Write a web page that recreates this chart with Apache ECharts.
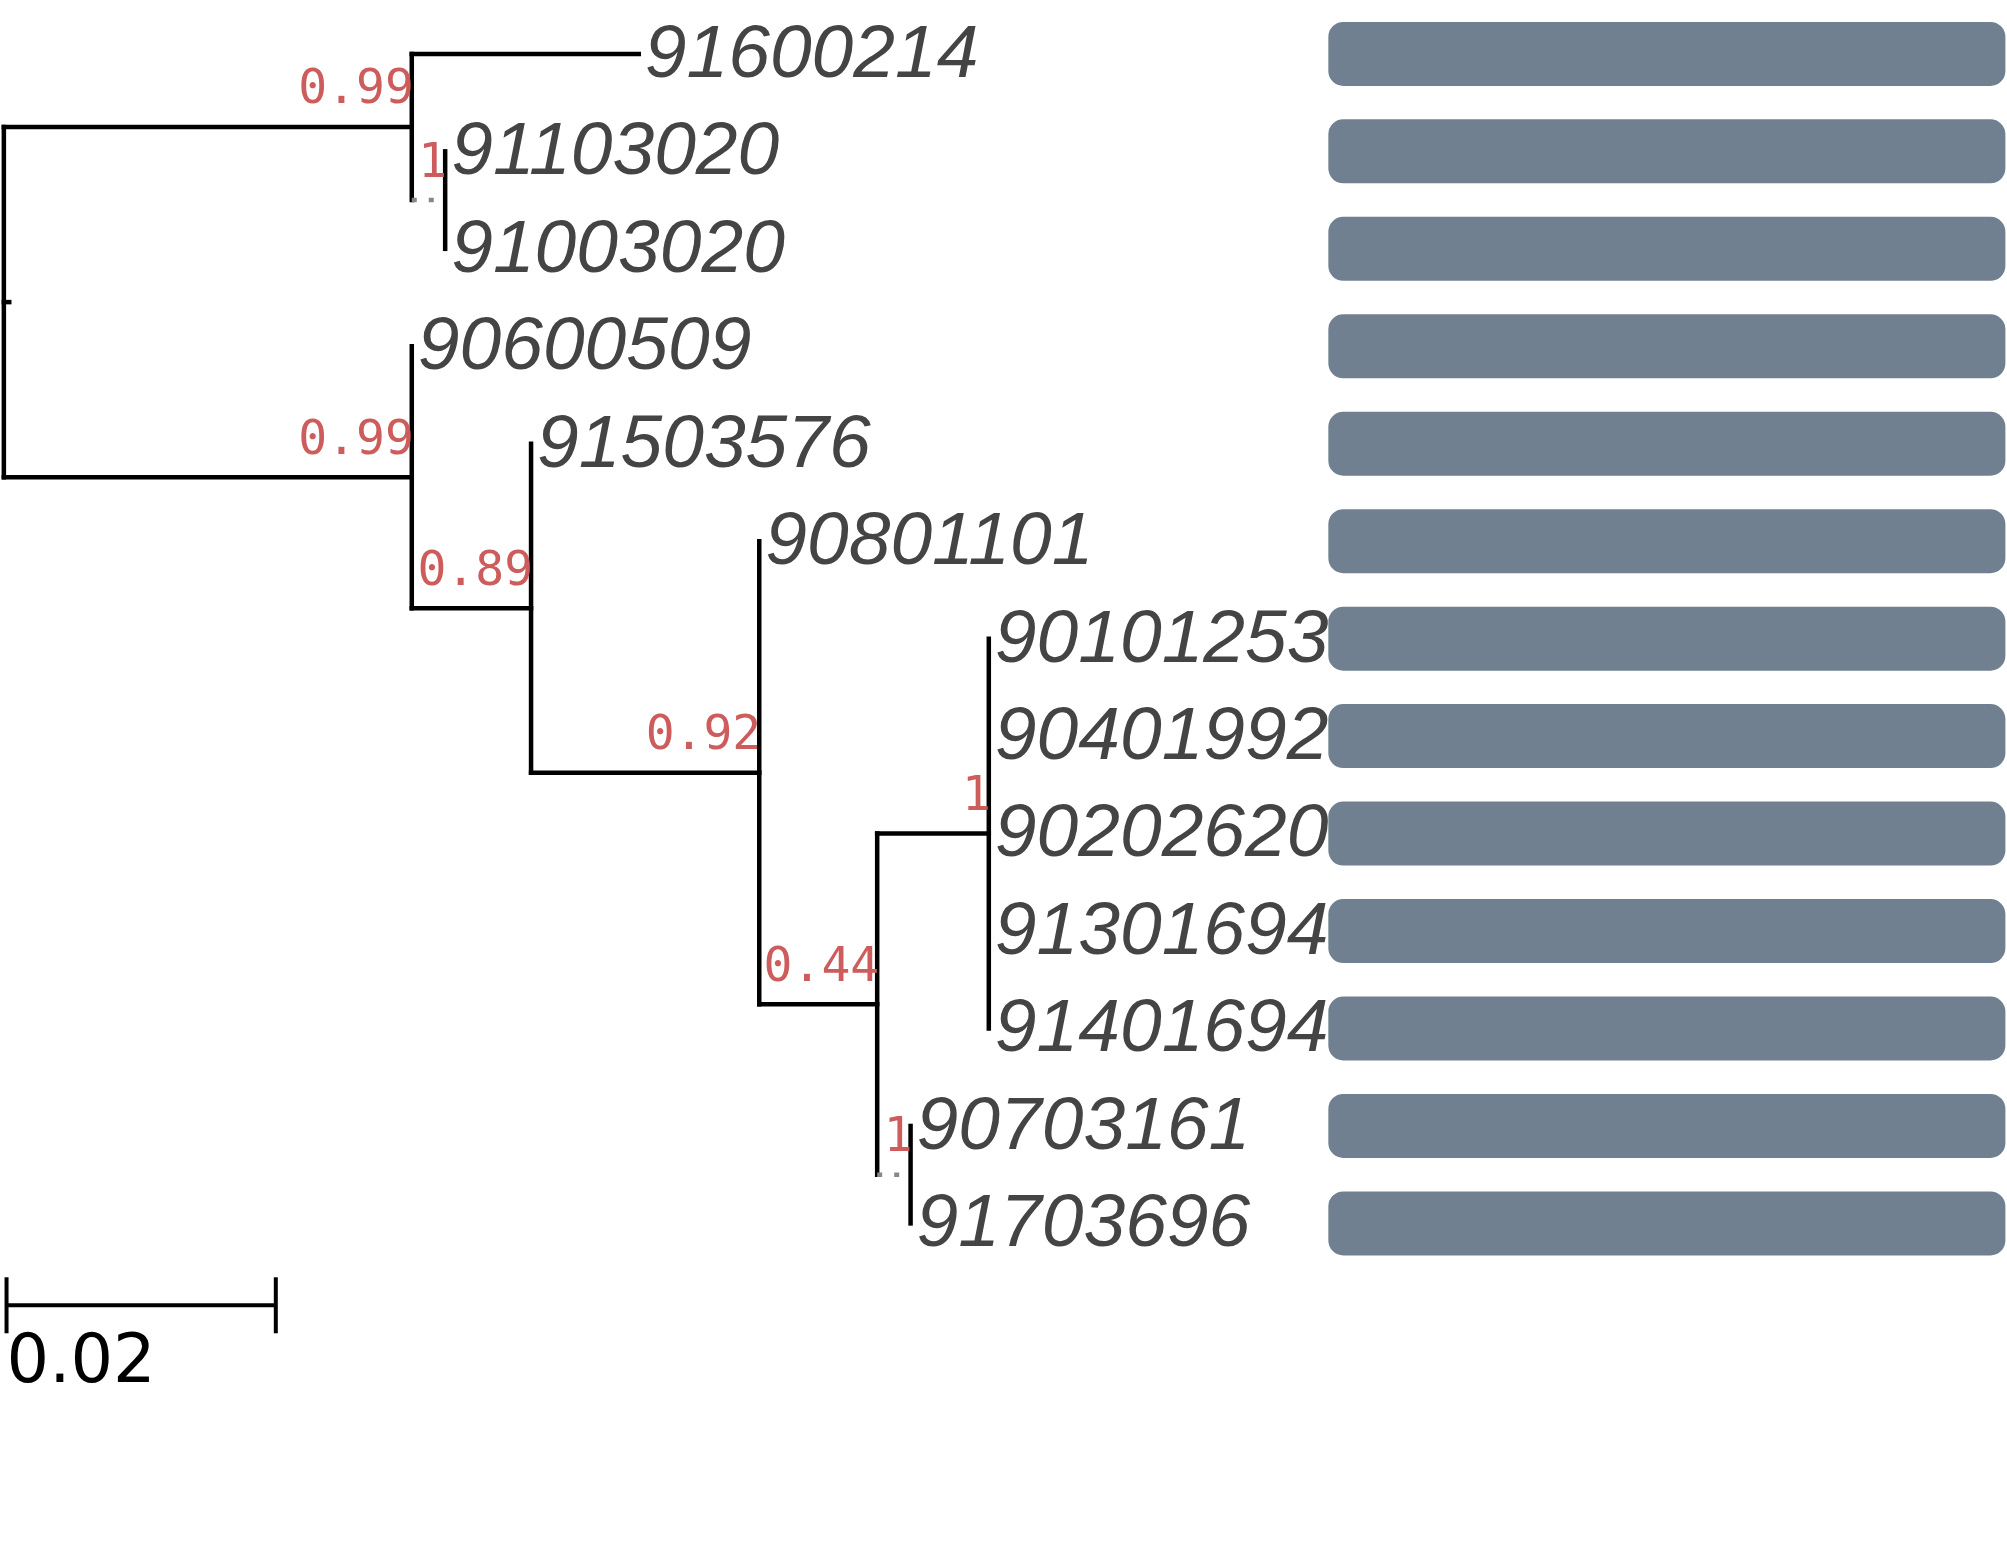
<!DOCTYPE html>
<html><head><meta charset="utf-8">
<script src="https://cdn.jsdelivr.net/npm/echarts@6/dist/echarts.min.js"></script>
<style>html,body{margin:0;padding:0;background:#fff}#c{width:2007px;height:1546px}</style>
</head><body><div id="c"></div>
<script>
// Tree topology (depth-first order)
const nodeNames = ['root','A','91600214','N1','91103020','91003020','B','90600509','C','91503576','D','90801101','E','F','90101253','90401992','90202620','91301694','91401694','G','90703161','91703696'];
const nodeParents = [-1,0,1,1,3,3,0,6,6,8,8,10,10,12,13,13,13,13,13,12,19,19];
const branchLengths = [0,0.0303,0.01686,0.00248,0,0,0.0303,0,0.00886,0,0.01695,0,0.00876,0.00829,0,0,0,0,0,0.00248,0,0];
const supportValues = ['','0.99','','1','','','0.99','','0.89','','0.92','','0.44','1','','','','','','1','',''];
const barStart = 0.09838, barEnd = 0.14867;
const scaleLength = 0.02, scaleLabel = '0.02';

// compute layout
const n = nodeNames.length;
const children = nodeNames.map(() => []);
nodeParents.forEach((p, i) => { if (p >= 0) children[p].push(i); });
const X = new Array(n), Y = new Array(n);
let leafIdx = 0;
const leaves = [];
(function walk(i, x) {
  X[i] = x;
  if (!children[i].length) { Y[i] = leafIdx++; leaves.push(i); return; }
  children[i].forEach(c => walk(c, x + branchLengths[c]));
  const ch = children[i];
  Y[i] = (Y[ch[0]] + Y[ch[ch.length - 1]]) / 2;
})(0, 0);

const segs = []; // [x1,y1,x2,y2,dotted]
for (let i = 0; i < n; i++) {
  const ch = children[i];
  if (ch.length) segs.push([X[i], Y[ch[0]], X[i], Y[ch[ch.length - 1]], 0]);
  if (nodeParents[i] >= 0 && branchLengths[i] > 0) {
    const dotted = branchLengths[i] < 0.003 ? 1 : 0;
    segs.push([X[nodeParents[i]], Y[i], X[i], Y[i], dotted]);
  }
}
// root stub
segs.push([0, Y[0], 0.0004, Y[0], 0]);
const supports = [];
for (let i = 0; i < n; i++) if (supportValues[i]) supports.push([X[i], Y[i], supportValues[i]]);
const leafLabels = leaves.map(i => [X[i], Y[i], nodeNames[i]]);
const bars = leaves.map(i => [barStart, Y[i], barEnd]);
const scaleY = 12.84;

const chart = echarts.init(document.getElementById('c'));
chart.setOption({
  animation: false,
  grid: {left: 3.85, right: 0, top: 0, bottom: 0},
  xAxis: {type: 'value', min: 0, max: 0.14879, show: false},
  yAxis: {type: 'value', min: -0.553, max: 15.31, inverse: true, show: false},
  series: [
    {type: 'custom', data: bars, renderItem: (p, api) => {
      const a = api.coord([api.value(0), api.value(1)]);
      const b = api.coord([api.value(2), api.value(1)]);
      const h = 64;
      return {type: 'rect', shape: {x: a[0], y: a[1] - h / 2, width: b[0] - a[0], height: h, r: 15}, style: {fill: '#708090'}};
    }},
    {type: 'custom', data: segs, renderItem: (p, api) => {
      const a = api.coord([api.value(0), api.value(1)]);
      const b = api.coord([api.value(2), api.value(3)]);
      const d = api.value(4);
      return {type: 'line', shape: {x1: a[0], y1: a[1], x2: b[0], y2: b[1]},
        style: d ? {stroke: '#888', lineWidth: 4.5, lineDash: [5, 12]} : {stroke: '#000', lineWidth: 4.5, lineCap: 'square'}};
    }},
    {type: 'custom', data: leafLabels, renderItem: (p, api) => {
      const a = api.coord([api.value(0), api.value(1)]);
      return {type: 'text', x: a[0] + 6, y: a[1] + 2, style: {text: leafLabels[p.dataIndex][2], fill: '#444',
        font: 'italic 75px "Liberation Sans"', textAlign: 'left', textVerticalAlign: 'middle'}};
    }},
    {type: 'custom', data: supports, renderItem: (p, api) => {
      const a = api.coord([api.value(0), api.value(1)]);
      return {type: 'text', x: a[0] + 2, y: a[1] - 12, style: {text: supports[p.dataIndex][2], fill: '#cd5c5c',
        font: '48px "DejaVu Sans Mono"', textAlign: 'right', textVerticalAlign: 'bottom'}};
    }},
    {type: 'custom', data: [[0.0002, scaleY, 0.0002 + scaleLength]], renderItem: (p, api) => {
      const a = api.coord([api.value(0), api.value(1)]);
      const b = api.coord([api.value(2), api.value(1)]);
      const st = {stroke: '#000', lineWidth: 4};
      return {type: 'group', children: [
        {type: 'line', shape: {x1: a[0], y1: a[1], x2: b[0], y2: b[1]}, style: st},
        {type: 'line', shape: {x1: a[0], y1: a[1] - 28, x2: a[0], y2: a[1] + 28}, style: st},
        {type: 'line', shape: {x1: b[0], y1: b[1] - 28, x2: b[0], y2: b[1] + 28}, style: st},
        {type: 'text', x: a[0], y: a[1] + 93, style: {text: scaleLabel, fill: '#000', font: '67px "DejaVu Sans"', textAlign: 'left', textVerticalAlign: 'bottom'}}
      ]};
    }}
  ]
});
</script></body></html>
